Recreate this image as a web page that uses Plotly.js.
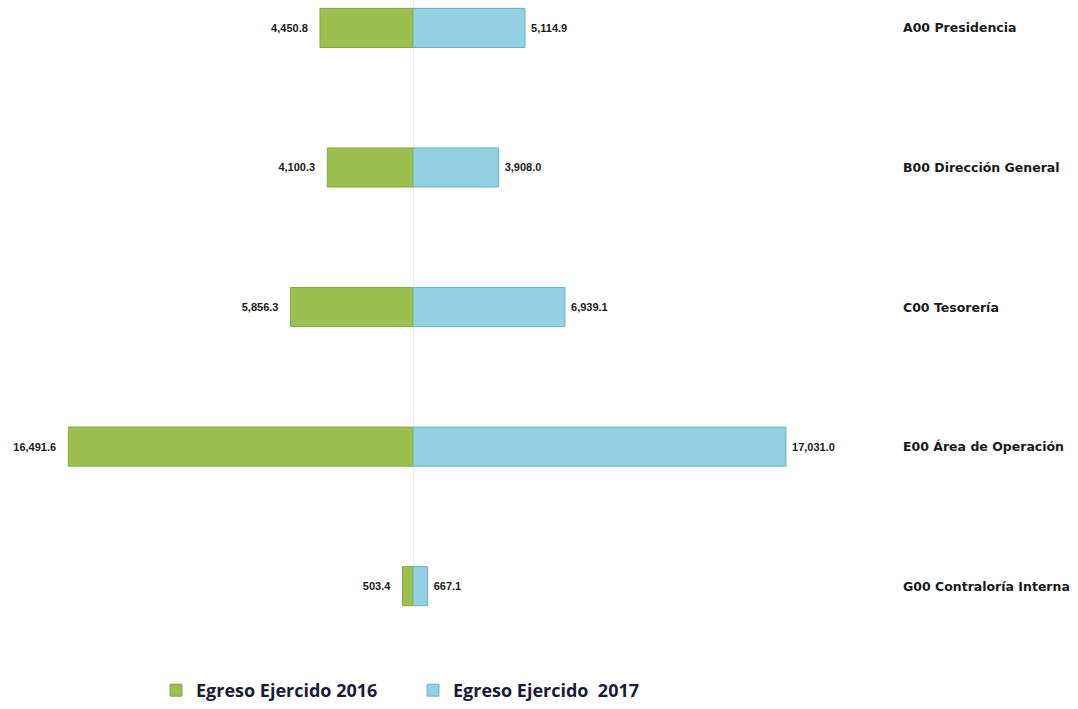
<!DOCTYPE html>
<html>
<head>
<meta charset="utf-8">
<script src="https://cdn.plot.ly/plotly-3.0.1.min.js"></script>
<style>html,body{margin:0;padding:0;background:#fff;}#chart{width:1078px;height:709px;}</style>
</head>
<body>
<div id="chart"></div>
<script>
const categories = ["A00 Presidencia", "B00 Dirección General", "C00 Tesorería", "E00 Área de Operación", "G00 Contraloría Interna"];
const egreso2016 = [4450.8, 4100.3, 5856.3, 16491.6, 503.4];
const egreso2017 = [5114.9, 3908.0, 6939.1, 17031.0, 667.1];
const seriesNames = ["Egreso Ejercido 2016", "Egreso Ejercido\u00a0 2017"];

const W = 1078, H = 709;
const centerPx = 413;
const split = centerPx / W;

const traces = [
  {
    type: 'bar', orientation: 'h', name: seriesNames[0],
    y: categories, x: egreso2016, xaxis: 'x', yaxis: 'y',
    width: 0.28,
    marker: {color: '#9bc04f', line: {color: '#84a843', width: 1}},
    texttemplate: '%{x:,.1f}\u00a0\u00a0\u00a0', textposition: 'outside', constraintext: 'none',
    textfont: {family: 'Liberation Sans, Arial, sans-serif', size: 11, color: '#1a1a1a', weight: 700},
    cliponaxis: false, hoverinfo: 'none'
  },
  {
    type: 'bar', orientation: 'h', name: seriesNames[1],
    y: categories, x: egreso2017, xaxis: 'x2', yaxis: 'y',
    width: 0.28,
    marker: {color: '#92d0e2', line: {color: '#6cb2c5', width: 1}},
    texttemplate: '\u00a0%{x:,.1f}', textposition: 'outside', constraintext: 'none',
    textfont: {family: 'Liberation Sans, Arial, sans-serif', size: 11, color: '#1a1a1a', weight: 700},
    cliponaxis: false, hoverinfo: 'none'
  }
];

const annotations = categories.map(c => ({
  text: c, xref: 'paper', yref: 'y', x: 901 / W, y: c,
  xanchor: 'left', yanchor: 'middle', showarrow: false,
  font: {family: 'DejaVu Sans, sans-serif', size: 12.5, color: '#1a1a1a', weight: 700}
}));

const layout = {
  width: W, height: H,
  margin: {l: 0, r: 0, t: 0, b: 49},
  paper_bgcolor: '#ffffff', plot_bgcolor: '#ffffff',
  showlegend: true,
  legend: {
    orientation: 'h', x: 156 / W, xanchor: 'left', y: -0.048, yanchor: 'middle',
    font: {family: 'Open Sans, sans-serif', size: 18, color: '#1b1b38', weight: 700},
    entrywidth: 212, entrywidthmode: 'pixels', traceorder: 'normal'
  },
  xaxis: {domain: [0, split], range: [413 / 0.0209, 0], showgrid: false, zeroline: false,
          showticklabels: false, showline: false, fixedrange: true},
  xaxis2: {domain: [split, 1], range: [0, (W - centerPx) / 0.0219], showgrid: false, zeroline: false,
           showticklabels: false, showline: false, anchor: 'y', fixedrange: true},
  yaxis: {type: 'category', range: [4.522, -0.2], showgrid: false, zeroline: false,
          showticklabels: false, showline: false, fixedrange: true},
  shapes: [{type: 'line', xref: 'x2', x0: 0, x1: 0, yref: 'paper', y0: 0.08, y1: 1,
            line: {color: '#d6d6d6', width: 1}, layer: 'below'}],
  annotations: annotations
};

Plotly.newPlot('chart', traces, layout, {displayModeBar: false, staticPlot: true});
</script>
</body>
</html>
